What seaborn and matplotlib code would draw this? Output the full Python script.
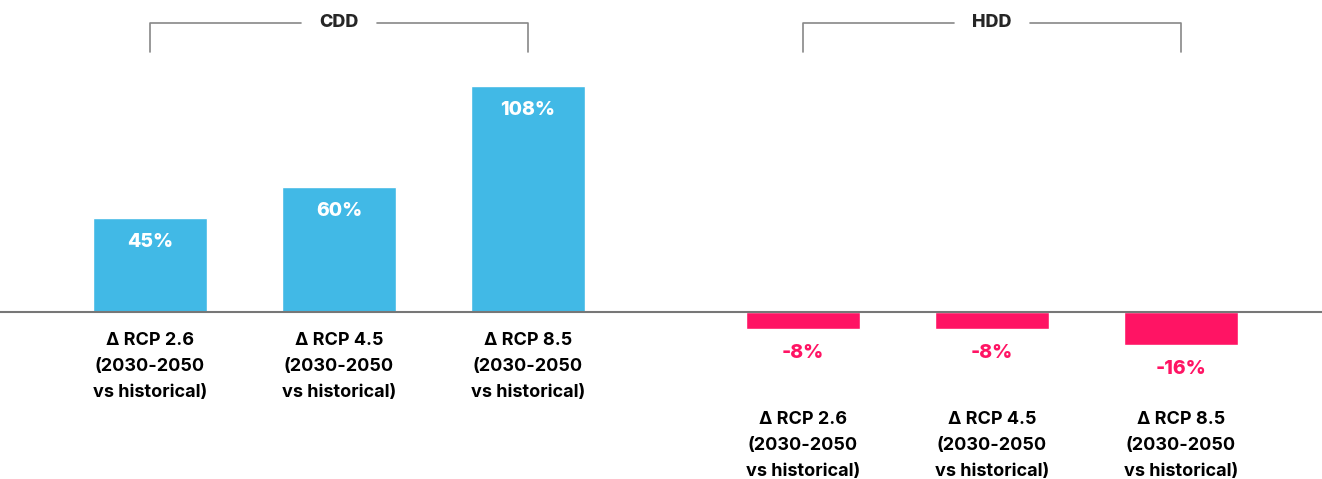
import matplotlib
matplotlib.use("Agg")
import matplotlib.pyplot as plt
import pandas as pd
import seaborn as sns

# data
groups = ["CDD", "CDD", "CDD", "HDD", "HDD", "HDD"]
scenarios = ["Δ RCP 2.6", "Δ RCP 4.5", "Δ RCP 8.5", "Δ RCP 2.6", "Δ RCP 4.5", "Δ RCP 8.5"]
values = [45, 60, 108, -8, -8, -16]
value_labels = ["45%", "60%", "108%", "-8%", "-8%", "-16%"]
period = "(2030-2050\nvs historical)"

# layout
positions = [0, 1, 2, 3.455, 4.455, 5.455]
blue = "#41b9e6"
pink = "#ff1464"

df = pd.DataFrame({"pos": positions, "value": values, "group": groups})

sns.set_style("white")
plt.rcParams["font.family"] = ["Inter", "DejaVu Sans"]

fig = plt.figure(figsize=(13.22, 4.79), dpi=100)
ax = fig.add_axes([0, 0, 1, 1])

sns.barplot(data=df, x="pos", y="value", hue="group", palette={"CDD": blue, "HDD": pink},
            native_scale=True, width=0.603, dodge=False, legend=False, ax=ax,
            saturation=1, zorder=2)

ax.set_xlim(-0.794, 6.201)
ax.set_ylim(-79.9, 149.3)
ax.axhline(0, color="#777777", lw=1.5, zorder=3)

for p, v, lab, sc in zip(positions, values, value_labels, scenarios):
    if v > 0:
        ax.text(p, v - 11.5, lab, ha="center", va="center", color="white",
                fontsize=14, fontweight="heavy", zorder=4)
        ty = -9.5
    else:
        ax.text(p, v - 11.5, lab, ha="center", va="center", color=pink,
                fontsize=14, fontweight="heavy", zorder=4)
        ty = -47.5
    ax.text(p, ty, sc + "\n" + period, ha="center", va="top", color="black",
            fontsize=13, fontweight="bold", linespacing=1.68)

# group brackets
for g, (x0, x1) in zip(["CDD", "HDD"], [(0, 2), (3.455, 5.455)]):
    xm = (x0 + x1) / 2
    top, bot = 138.3, 124.4
    ax.plot([x0, x0, xm - 0.2], [bot, top, top], color="#888888", lw=1.2)
    ax.plot([xm + 0.2, x1, x1], [top, top, bot], color="#888888", lw=1.2)
    ax.text(xm, top, g, ha="center", va="center", fontsize=13, fontweight="heavy")

ax.axis("off")
fig.savefig("out.png", dpi=100)
